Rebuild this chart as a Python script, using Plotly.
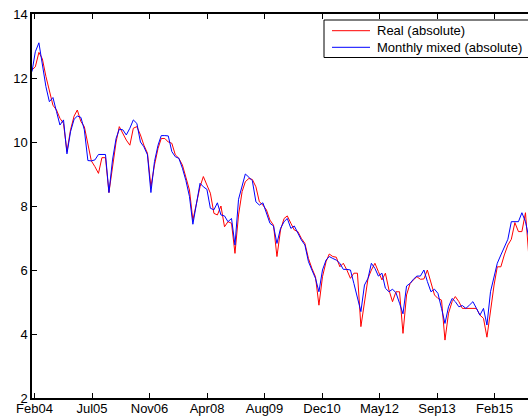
import pandas as pd
import plotly.graph_objects as go

start_month = "2004-02-01"
real_abs = [12.25, 12.35, 12.8, 12.6, 12.05, 11.57, 11.15, 11.0, 10.74, 10.58,
            9.7, 10.38, 10.81, 11.0, 10.64, 10.48, 9.96, 9.41, 9.23, 9.02,
            9.51, 9.51, 8.42, 9.23, 10.0, 10.48, 10.27, 10.06, 9.9, 10.43,
            10.48, 10.22, 9.9, 9.65, 8.6, 9.28, 9.8, 10.11, 10.11, 10.0,
            9.96, 9.6, 9.49, 9.28, 8.9, 8.5, 7.56, 8.14, 8.6, 8.92,
            8.66, 8.4, 7.77, 7.72, 8.0, 7.35, 7.51, 7.46, 6.52, 7.72,
            8.45, 8.76, 8.86, 8.83, 8.6, 8.13, 8.03, 7.875, 7.56, 7.4,
            6.42, 7.25, 7.61, 7.69, 7.46, 7.25, 7.2, 6.99, 6.83, 6.36,
            6.05, 5.79, 4.9, 5.79, 6.26, 6.5, 6.42, 6.4, 6.1, 6.21,
            6.0, 5.74, 5.9, 5.9, 4.23, 5.06, 5.74, 6.0, 6.21, 5.95,
            5.69, 5.9, 5.375, 5.01, 5.32, 5.32, 4.02, 5.22, 5.58, 5.69,
            5.79, 5.71, 5.72, 6.0, 5.64, 5.22, 5.11, 5.06, 3.81, 4.65,
            5.01, 5.17, 5.01, 4.8, 4.8, 4.8, 4.8, 4.8, 4.59, 4.49,
            3.9, 4.75, 5.53, 6.1, 6.1, 6.47, 6.78, 6.96, 7.48, 7.2,
            7.2, 7.79, 6.4]
mixed_abs = [12.2, 12.82, 13.1, 12.35, 11.73, 11.26, 11.39, 10.95, 10.53, 10.69,
             9.63, 10.32, 10.71, 10.81, 10.77, 10.38, 9.42, 9.41, 9.44, 9.61,
             9.61, 9.61, 8.42, 9.44, 10.11, 10.4, 10.38, 10.22, 10.43, 10.69,
             10.58, 10.0, 9.85, 9.6, 8.42, 9.39, 9.9, 10.2, 10.2, 10.19,
             9.7, 9.54, 9.49, 9.18, 8.8, 8.3, 7.43, 8.08, 8.71, 8.6,
             8.52, 7.93, 7.88, 8.1, 7.72, 7.69, 7.51, 7.61, 6.78, 8.21,
             8.6, 9.0, 8.9, 8.79, 8.13, 8.03, 8.1, 7.77, 7.46, 7.375,
             6.83, 7.3, 7.51, 7.61, 7.3, 7.375, 7.15, 6.94, 6.78, 6.26,
             6.0, 5.74, 5.32, 6.0, 6.31, 6.42, 6.36, 6.31, 6.21, 6.02,
             6.02, 6.0, 5.58, 5.17, 4.7, 5.53, 5.74, 6.21, 6.05, 5.81,
             5.9, 5.43, 5.32, 5.4, 5.29, 4.96, 4.63, 5.5, 5.58, 5.71,
             5.81, 5.81, 6.0, 5.64, 5.32, 5.4, 5.27, 4.8, 4.33, 4.85,
             5.11, 5.01, 4.85, 4.89, 4.8, 4.9, 5.01, 4.8, 4.59, 4.8,
             4.28, 5.32, 5.84, 6.21, 6.47, 6.73, 6.96, 7.51, 7.51, 7.51,
             7.79, 7.51, 7.0]
series_names = ["Real (absolute)", "Monthly mixed (absolute)"]
series_colors = ["#ff0000", "#0000ff"]
tick_labels = ["Feb04", "Jul05", "Nov06", "Apr08", "Aug09", "Dec10",
               "May12", "Sep13", "Feb15"]
y_ticks = [2, 4, 6, 8, 10, 12, 14]

dates = pd.date_range(start_month, periods=len(real_abs), freq="MS")
tick_dates = [pd.Timestamp("2004-02-23") + pd.Timedelta(days=500 * k)
              for k in range(len(tick_labels))]

fig = go.Figure()
for vals, name, col in zip([real_abs, mixed_abs], series_names, series_colors):
    fig.add_trace(go.Scatter(x=dates, y=vals, mode="lines", name=name,
                             showlegend=False,
                             line=dict(color=col, width=1)))

W, H = 528, 419
L, R, T, B = 32, 0, 14, 21
pw, ph = W - L - R, H - T - B

def px_x(p):
    return (p - L) / pw

def px_y(p):
    return 1 - (p - T) / ph

# legend box (extends past the right edge, as in the reference)
fig.add_shape(type="rect", xref="paper", yref="paper",
              x0=px_x(324), x1=px_x(560), y0=px_y(57.5), y1=px_y(20),
              line=dict(color="black", width=1), fillcolor="white", layer="above")
for i, (name, col) in enumerate(zip(series_names, series_colors)):
    yc = 30.7 + i * 16.6
    fig.add_shape(type="line", xref="paper", yref="paper",
                  x0=px_x(332), x1=px_x(370), y0=px_y(yc), y1=px_y(yc),
                  line=dict(color=col, width=1), layer="above")
    fig.add_annotation(xref="paper", yref="paper", x=px_x(374.5), y=px_y(yc),
                       xanchor="left", yanchor="middle", text=name,
                       showarrow=False, font=dict(size=13, color="black"))

fig.update_layout(
    width=W, height=H, autosize=False,
    margin=dict(l=L, r=R, t=T, b=B, pad=0),
    paper_bgcolor="white", plot_bgcolor="white",
    font=dict(family="Liberation Sans, Arial, sans-serif", size=13, color="black"),
    showlegend=False,
    xaxis=dict(type="date", range=[pd.Timestamp("2004-02-01"), pd.Timestamp("2015-11-23")],
               tickvals=tick_dates, ticktext=tick_labels,
               ticks="inside", ticklen=5, tickwidth=1, tickcolor="black",
               ticklabelstandoff=-2,
               showline=True, linecolor="black", linewidth=1.5, mirror="ticks",
               showgrid=False, zeroline=False, automargin=False),
    yaxis=dict(range=[2, 14], tickvals=y_ticks,
               ticks="inside", ticklen=5, tickwidth=1, tickcolor="black",
               showline=True, linecolor="black", linewidth=1.5, mirror=False,
               showgrid=False, zeroline=False, automargin=False),
)

fig.write_html("out.html")
